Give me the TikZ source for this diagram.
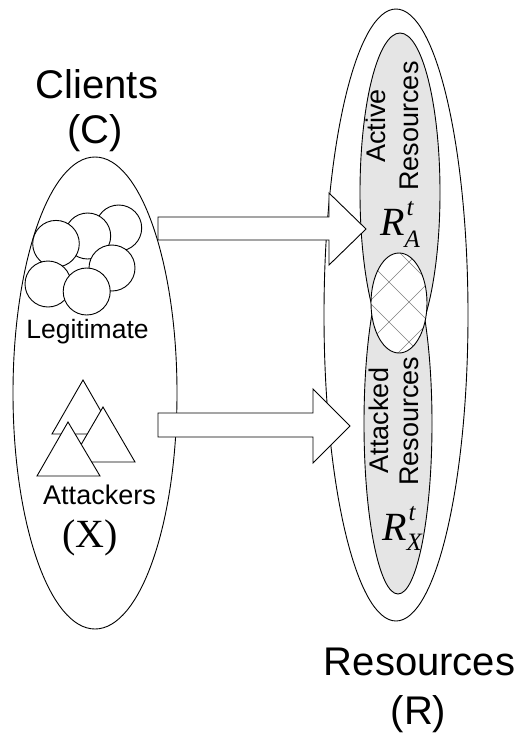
\documentclass[tikz,border=0pt]{standalone}
\usepackage{fontspec}
\setmainfont{Liberation Sans}
\newfontfamily\timesfont{Liberation Serif}
\newcommand\bigtxt{\fontsize{40}{45}\selectfont}
\newcommand\midtxt{\fontsize{27}{32}\selectfont}
\newcommand\scripttxt{\fontsize{25}{25}\selectfont}
\begin{document}
\begin{tikzpicture}[x=1pt,y=-1pt,
    outline/.style={draw=black,line width=0.9pt},
    shade/.style={outline,fill=gray!20},
    token/.style={outline,fill=white},
    blockarrow/.style={outline,fill=white,line join=miter},
    hatchline/.style={draw=gray,line width=0.6pt},
    label/.style={inner sep=0pt,anchor=base},
    sidelabel/.style={inner sep=0pt,anchor=base,rotate=90}]
\useasboundingbox (0,0) rectangle (520,736);

% client population
\draw[token] (95,393) ellipse [x radius=82pt, y radius=236pt];

% resource pool with active / attacked subsets
\draw[token] (396,315) ellipse [x radius=72pt, y radius=306pt];
\draw[shade] (398,423.5) ellipse [x radius=34pt, y radius=170.5pt];
\draw[shade] (400,192.5) ellipse [x radius=40pt, y radius=159.5pt];

% overlap of the two subsets, cross-hatched
\coordinate (ov) at (399,303);
\fill[white] (ov) ellipse [x radius=28pt, y radius=50pt];
\begin{scope}
  \clip (ov) ellipse [x radius=28pt, y radius=50pt];
  \foreach \k in {-4,...,4} {
    \draw[hatchline] ({671+40*\k-240},240) -- ({671+40*\k-370},370);
    \draw[hatchline] ({107+40*\k+240},240) -- ({107+40*\k+370},370);
  }
\end{scope}
\draw[outline] (ov) ellipse [x radius=28pt, y radius=50pt];

% block arrows from clients to resources
\draw[blockarrow] (158,217) -- (329,217) -- (329,193) -- (366,229)
  -- (329,265) -- (329,240) -- (158,240) -- cycle;
\draw[blockarrow] (158,413) -- (313,413) -- (313,389) -- (350,426)
  -- (313,463) -- (313,437) -- (158,437) -- cycle;

% legitimate clients
\draw[token] (118.7,228) circle [radius=23pt];
\draw[token] (87.7,236) circle [radius=23pt];
\draw[token] (56,243.7) circle [radius=23.3pt];
\draw[token] (112,268) circle [radius=23pt];
\draw[token] (48,284) circle [radius=23pt];
\draw[token] (86.7,291.5) circle [radius=23.5pt];

% attackers
\draw[token] (52,434) -- (83,380) -- (114,434) -- cycle;
\draw[token] (71,462) -- (103,407) -- (135,462) -- cycle;
\draw[token] (37,476) -- (68,422) -- (100,476) -- cycle;

% labels
\node[label] (clients) at (97,98) {\bigtxt Clients};
\node[label] (clientsym) at (95,143) {\bigtxt (C)};
\node[label] (res) at (419.5,675) {\bigtxt Resources};
\node[label] (ressym) at (418.5,724) {\bigtxt (R)};
\node[label] (legit) at (87.5,338) {\fontsize{26.5}{30}\selectfont Legitimate};
\node[label] (att) at (99.5,504) {\midtxt Attackers};
\node[label] (attsym) at (90,547) {\timesfont\bigtxt (X)};

\node[sidelabel] (act1) at (385,126) {\midtxt Active};
\node[sidelabel] (act2) at (418,126) {\midtxt Resources};
\node[sidelabel] (atk1) at (388,420.5) {\midtxt Attacked};
\node[sidelabel] (atk2) at (418,421) {\midtxt Resources};

\node[inner sep=0pt,anchor=base west] (ra) at (380,235)
  {\timesfont\itshape\bigtxt R\rlap{\kern2pt\raisebox{20pt}{\scripttxt t}}\raisebox{-12pt}{\scripttxt A}};
\node[inner sep=0pt,anchor=base west] (rx) at (382,540)
  {\timesfont\itshape\bigtxt R\rlap{\kern2pt\raisebox{20pt}{\scripttxt t}}\raisebox{-10pt}{\scripttxt X}};
\end{tikzpicture}
\end{document}
